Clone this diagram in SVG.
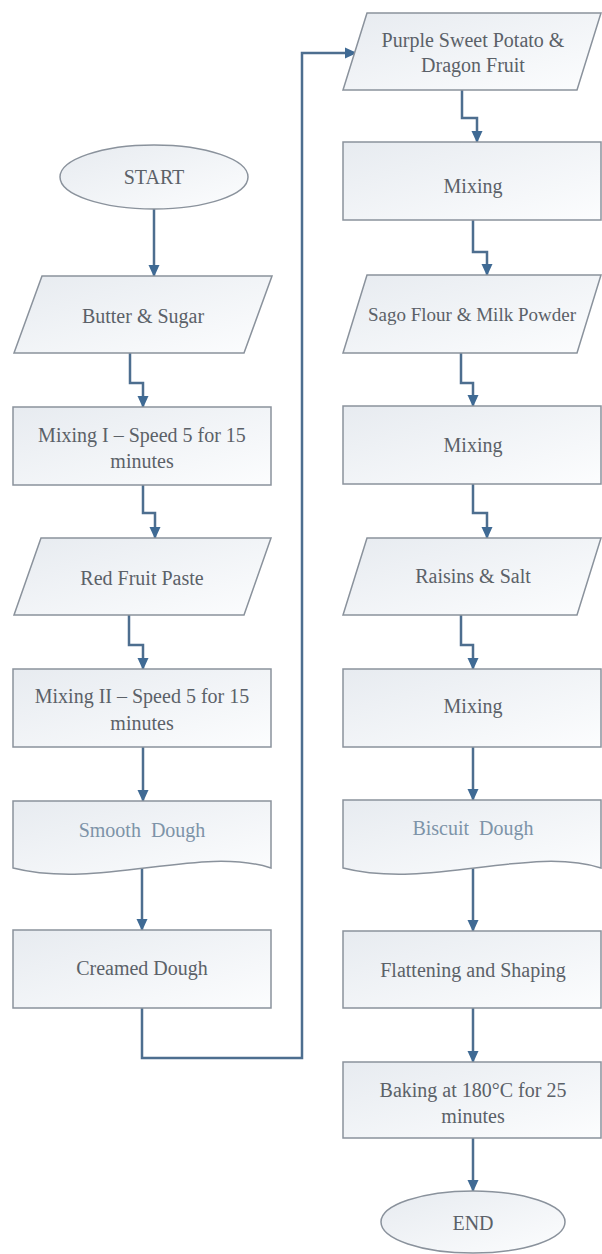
<svg xmlns="http://www.w3.org/2000/svg" width="602" height="1254" viewBox="0 0 602 1254">
<defs>
<linearGradient id="fillg" x1="0" y1="0" x2="1" y2="1">
<stop offset="0" stop-color="#e7ebf0"/>
<stop offset="1" stop-color="#fcfdfe"/>
</linearGradient>
<marker id="arr" viewBox="0 0 12 12" refX="11" refY="6" markerWidth="12" markerHeight="12" markerUnits="userSpaceOnUse" orient="auto">
<path d="M0,0.5 L12,6 L0,11.5 Z" fill="#3f6a94"/>
</marker>
</defs>
<style>
.shape{fill:url(#fillg);stroke:#8a929c;stroke-width:1.5}
text{font-family:'Liberation Serif','Times New Roman','DejaVu Serif',serif;font-size:20px;text-anchor:middle}
.t{fill:#5b6168}
.tb{fill:#7d93a8}
.c{fill:none;stroke:#4d6e8f;stroke-width:2.5;marker-end:url(#arr)}
</style>
<rect width="602" height="1254" fill="#ffffff"/>
<g id="connectors">
<path class="c" d="M154,209 V276"/>
<path class="c" d="M130,353 V383 H143 V407"/>
<path class="c" d="M143,485 V513 H155 V538"/>
<path class="c" d="M129,615 V645 H143 V669"/>
<path class="c" d="M143,747 V801"/>
<path class="c" d="M142,866 V930"/>
<path class="c" d="M142,1008 V1058 H302 V53 H356"/>
<path class="c" d="M462,90 V118 H477 V142"/>
<path class="c" d="M473,220 V252 H487 V275"/>
<path class="c" d="M461,353 V383 H473 V406"/>
<path class="c" d="M473,484 V513 H487 V538"/>
<path class="c" d="M461,615 V645 H473 V669"/>
<path class="c" d="M473,747 V800"/>
<path class="c" d="M473,866 V931"/>
<path class="c" d="M473,1008 V1062"/>
<path class="c" d="M473,1138 V1191"/>
</g>
<g id="nodes">
<g id="start">
<ellipse class="shape" cx="154" cy="177" rx="94" ry="32"/>
<text class="t" x="154" y="184">START</text>
</g>
<g id="butter-sugar">
<polygon class="shape" points="42,276 272,276 244,353 14,353"/>
<text class="t" x="143" y="323">Butter &amp; Sugar</text>
</g>
<g id="mixing-1">
<rect class="shape" x="13" y="407" width="258" height="78"/>
<text class="t" x="142" y="442">Mixing I – Speed 5 for 15</text>
<text class="t" x="142" y="468">minutes</text>
</g>
<g id="red-fruit-paste">
<polygon class="shape" points="41,538 271,538 244,615 14,615"/>
<text class="t" x="142" y="585">Red Fruit Paste</text>
</g>
<g id="mixing-2">
<rect class="shape" x="13" y="669" width="258" height="78"/>
<text class="t" x="142" y="703">Mixing II – Speed 5 for 15</text>
<text class="t" x="142" y="730">minutes</text>
</g>
<g id="smooth-dough">
<path class="shape" d="M13,801 H271 V868 C200,845 100,890 13,868 Z"/>
<text class="tb" x="142" y="837" xml:space="preserve">Smooth  Dough</text>
</g>
<g id="creamed-dough">
<rect class="shape" x="13" y="930" width="258" height="78"/>
<text class="t" x="142" y="975">Creamed Dough</text>
</g>
<g id="purple-dragon">
<polygon class="shape" points="367,13 601,13 577,90 343,90"/>
<text class="t" x="473" y="47">Purple Sweet Potato &amp;</text>
<text class="t" x="473" y="72">Dragon Fruit</text>
</g>
<g id="mixing-a">
<rect class="shape" x="343" y="142" width="258" height="78"/>
<text class="t" x="473" y="193">Mixing</text>
</g>
<g id="sago-milk">
<polygon class="shape" points="367,275 601,275 577,353 343,353"/>
<text class="t" x="472" y="321" style="font-size:19px">Sago Flour &amp; Milk Powder</text>
</g>
<g id="mixing-b">
<rect class="shape" x="343" y="406" width="258" height="78"/>
<text class="t" x="473" y="452">Mixing</text>
</g>
<g id="raisins-salt">
<polygon class="shape" points="367,538 601,538 577,615 343,615"/>
<text class="t" x="473" y="583">Raisins &amp; Salt</text>
</g>
<g id="mixing-c">
<rect class="shape" x="343" y="669" width="258" height="78"/>
<text class="t" x="473" y="713">Mixing</text>
</g>
<g id="biscuit-dough">
<path class="shape" d="M343,800 H601 V868 C530,845 430,890 343,868 Z"/>
<text class="tb" x="473" y="835" xml:space="preserve">Biscuit  Dough</text>
</g>
<g id="flattening">
<rect class="shape" x="343" y="931" width="258" height="77"/>
<text class="t" x="473" y="977">Flattening and Shaping</text>
</g>
<g id="baking">
<rect class="shape" x="343" y="1062" width="258" height="76"/>
<text class="t" x="473" y="1097">Baking at 180°C for 25</text>
<text class="t" x="473" y="1123">minutes</text>
</g>
<g id="end">
<ellipse class="shape" cx="473" cy="1222" rx="92" ry="31"/>
<text class="t" x="473" y="1230">END</text>
</g>
</g>
</svg>
